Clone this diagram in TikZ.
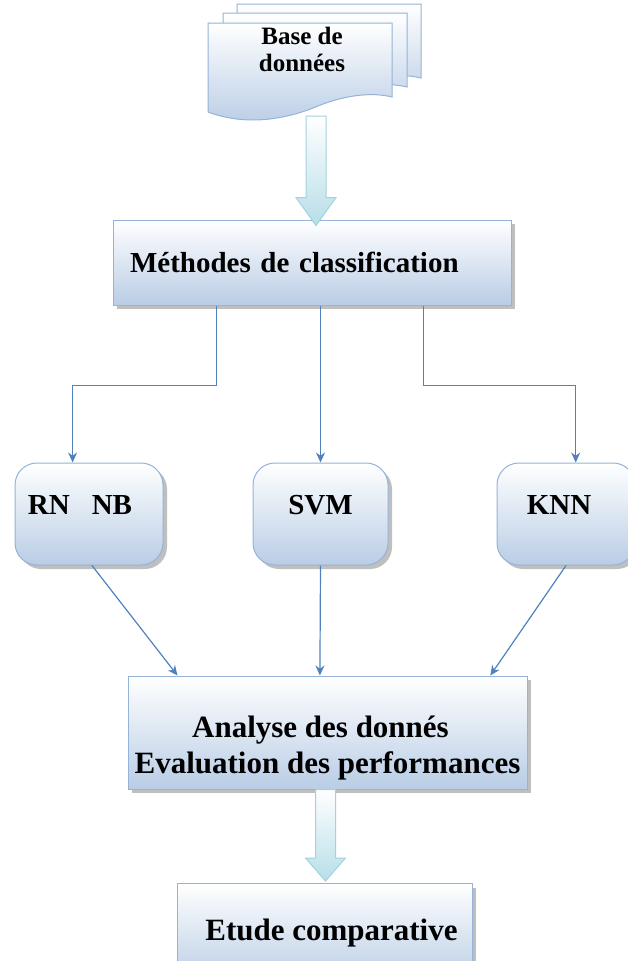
\documentclass[tikz,border=0pt]{standalone}
\usepackage{fontspec}
\setmainfont{Liberation Serif}
\usetikzlibrary{arrows.meta, positioning, shadows, calc}

\definecolor{boxedge}{HTML}{95B3D7}
\definecolor{boxfill}{HTML}{B9CDE5}
\definecolor{linkblue}{HTML}{4F81BD}
\definecolor{fatfill}{HTML}{B7DEE8}
\definecolor{fatedge}{HTML}{A2D2DE}

\newcommand{\bigfont}{\bfseries\fontsize{29}{38}\selectfont}
\newcommand{\lift}[1]{\raisebox{18pt}{#1}}
% hollow down arrow: #1 start, #2 tip, #3 head length
\newcommand{\fatarrow}[3]{%
  \path[fatarrow] let \p1=(#1), \p2=(#2) in
    (\x1-10pt,\y1) -- (\x1+10pt,\y1) -- (\x1+10pt,\y2+#3) -- (\x1+20pt,\y2+#3)
    -- (\x1,\y2) -- (\x1-20pt,\y2+#3) -- (\x1-10pt,\y2+#3) -- cycle;}

\tikzset{
  box/.style={draw=boxedge, line width=1pt, top color=white, bottom color=boxfill,
    drop shadow={shadow xshift=4pt, shadow yshift=-4pt, fill=black!50, opacity=0.5},
    font=\bigfont, inner sep=0pt},
  rbox/.style={box, rounded corners=22pt, minimum height=102pt},
  doc/.style={draw=boxedge, line width=1pt, top color=white, bottom color=boxfill},
  fatarrow/.style={draw=fatedge, line width=1pt, top color=white, bottom color=fatfill},
  link/.style={draw=linkblue, line width=1.2pt, -{Stealth[length=10pt,width=9pt]}}
}

\begin{document}
\begin{tikzpicture}[x=1pt, y=-1pt]
    \useasboundingbox (0,0) rectangle (627,961);

    % Database (stacked documents)
    \foreach \dx/\dy in {29/-19, 15/-10, 0/0} {
      \begin{scope}[shift={(\dx,\dy)}]
        \path[doc] (208,23) -- (392,23) -- (392,97)
          .. controls (372,92) and (345,95) .. (318,106)
          .. controls (285,120) and (245,126) .. (208,112) -- cycle;
      \end{scope}
    }
    \node[font=\bfseries\fontsize{25}{27}\selectfont, align=center] (db) at (302,49) {Base de\\données};
    \coordinate (dbout) at (316,116);

    % Boxes
    \node[box, minimum width=398pt, minimum height=85pt, text width=364pt, align=left] (meth) at (312,262.5) {Méthodes de classification};
    \node[rbox, minimum width=148pt] (rnnb) at (89,514) {\lift{RN\hspace{22pt}NB}\hspace{18pt}\null};
    \node[rbox, minimum width=135pt] (svm) at (320.5,514) {\lift{SVM}};
    \node[rbox, minimum width=138pt] (knn) at (566,514) {\lift{KNN}\hspace{14pt}\null};
    \node[box, minimum width=399pt, minimum height=113pt, align=center, font=\bfseries\fontsize{31}{36}\selectfont] (analyse) at (327.5,732.5) {\rule{0pt}{52pt}Analyse des donnés\hspace{14pt}\null\\Evaluation des performances};
    \node[box, minimum width=295pt, minimum height=100pt, anchor=north, font=\bfseries\fontsize{31}{36}\selectfont] (etude) at (324.5,883) {\hspace{14pt}Etude comparative};

    % Thick arrows
    \fatarrow{dbout}{$(dbout |- meth.north)+(0,6)$}{28pt}
    \coordinate (anout) at ($(analyse.south)+(-2,0)$);
    \fatarrow{anout}{$(anout |- etude.north)+(0,-2)$}{23pt}

    % Links to the methods
    \draw[link] ($(meth.south west)!0.26!(meth.south east)$) -- ++(0,80) -| ($(rnnb.north west)!0.39!(rnnb.north east)$);
    \draw[link] (meth.south -| svm.north) -- (svm.north);
    \draw[link] ($(meth.south west)!0.78!(meth.south east)$) -- ++(0,80) -| ($(knn.north west)!0.57!(knn.north east)$);

    % Links to the analysis
    \draw[link] ($(rnnb.south)+(3,0)$) -- ($(analyse.north west)!0.125!(analyse.north east)$);
    \draw[link] (svm.south) -- ($(analyse.north west)!0.481!(analyse.north east)$);
    \draw[link] (knn.south) -- ($(analyse.north west)!0.907!(analyse.north east)$);
\end{tikzpicture}
\end{document}
